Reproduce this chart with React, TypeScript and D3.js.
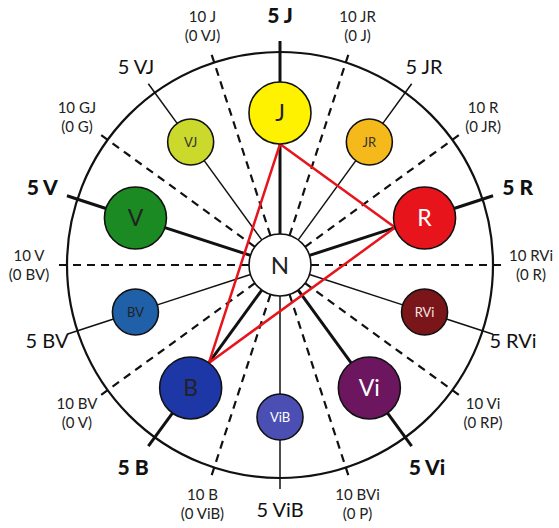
import React from 'react';
import * as d3 from 'd3';

// hues clockwise from the top
const hues = ['J', 'JR', 'R', 'RVi', 'Vi', 'ViB', 'B', 'BV', 'V', 'VJ'];
const principal = [true, false, true, false, true, false, true, false, true, false];
const hueColors = ['#fff200', '#f5b91c', '#e8141c', '#7a1519', '#6c1660', '#4b4fb4', '#1e37a6', '#1f60a8', '#1b8a22', '#cbd82c'];
const hueTextColors = ['#222', '#333', '#fff', '#f3e6e6', '#fff', '#fff', '#222', '#222', '#222', '#333'];
const hueLabels = ['5 J', '5 JR', '5 R', '5 RVi', '5 Vi', '5 ViB', '5 B', '5 BV', '5 V', '5 VJ'];

// boundaries between hues (dashed), clockwise starting just after 5 J
const boundaryTop = ['10 JR', '10 R', '10 RVi', '10 Vi', '10 BVi', '10 B', '10 BV', '10 V', '10 GJ', '10 J'];
const boundaryBottom = ['(0 J)', '(0 JR)', '(0 R)', '(0 RP)', '(0 P)', '(0 ViB)', '(0 V)', '(0 BV)', '(0 G)', '(0 VJ)'];

// hues joined by the red triangle
const triangle = ['J', 'R', 'B'];

const W = 559;
const H = 528;
const cx = 280;
const cy = 265;
const R = 213;
const rN = 31;
const rHue = 152;
const FONT = 'Lato, "Open Sans", sans-serif';

const App: React.FC = () => {
    const angle = d3.scaleLinear().domain([0, hues.length]).range([0, 2 * Math.PI]);
    const pt = (a: number, r: number): [number, number] => [cx + r * Math.sin(a), cy - r * Math.cos(a)];

    const triPts = triangle.map(h => {
        const i = hues.indexOf(h);
        return pt(angle(i), rHue - (principal[i] ? 31 : 23));
    });
    const triPath = d3.line().curve(d3.curveLinearClosed)(triPts) || '';

    return (
        <svg width={W} height={H} style={{ position: 'absolute', left: 0, top: 0, background: '#fff' }}>
            <circle cx={cx} cy={cy} r={R} fill="none" stroke="#111" strokeWidth={2.2} />

            {/* dashed boundaries */}
            {boundaryTop.map((t, i) => {
                const a = angle(i + 0.5);
                const [x1, y1] = pt(a, rN);
                const [x2, y2] = pt(a, 222);
                const [lx, ly] = pt(a, 251);
                return (
                    <g key={t}>
                        <line x1={x1} y1={y1} x2={x2} y2={y2} stroke="#111" strokeWidth={2.2} strokeDasharray="8 6" />
                        <text x={lx} y={ly - 4} textAnchor="middle" fontFamily={FONT} fontSize={15} fill="#222">{t}</text>
                        <text x={lx} y={ly + 15} textAnchor="middle" fontFamily={FONT} fontSize={15} fill="#222">{boundaryBottom[i]}</text>
                    </g>
                );
            })}

            {/* hue spokes */}
            {hues.map((h, i) => {
                const a = angle(i);
                const cr = principal[i] ? 31 : 23;
                const sw = principal[i] ? 3 : 1.5;
                const [a1, b1] = pt(a, rN);
                const [a2, b2] = pt(a, rHue - cr);
                const [a3, b3] = pt(a, rHue + cr);
                const [a4, b4] = pt(a, 224);
                return (
                    <g key={'s' + h}>
                        <line x1={a1} y1={b1} x2={a2} y2={b2} stroke="#111" strokeWidth={sw} />
                        <line x1={a3} y1={b3} x2={a4} y2={b4} stroke="#111" strokeWidth={sw} />
                    </g>
                );
            })}

            <path d={triPath} fill="none" stroke="#e8141c" strokeWidth={2.5} strokeLinejoin="miter" />

            {/* hue discs */}
            {hues.map((h, i) => {
                const [x, y] = pt(angle(i), rHue);
                const big = principal[i];
                return (
                    <g key={'c' + h}>
                        <circle cx={x} cy={y} r={big ? 31 : 23} fill={hueColors[i]} stroke="#111" strokeWidth={1.6} />
                        <text x={x} y={y} dy="0.36em" textAnchor="middle" fontFamily={FONT}
                            fontSize={big ? 23 : 13} fill={hueTextColors[i]}>{h}</text>
                    </g>
                );
            })}

            <circle cx={cx} cy={cy} r={rN} fill="#fff" stroke="#111" strokeWidth={1.6} />
            <text x={cx} y={cy} dy="0.36em" textAnchor="middle" fontFamily={FONT} fontSize={24} fill="#222">N</text>

            {/* hue labels */}
            {hueLabels.map((t, i) => {
                const [x, y] = pt(angle(i), principal[i] ? 250 : 245);
                return (
                    <text key={t} x={x} y={y} dy="0.36em" textAnchor="middle" fontFamily={FONT}
                        fontSize={principal[i] ? 21 : 20} fontWeight={principal[i] ? 900 : 400} fill="#111">{t}</text>
                );
            })}
        </svg>
    );
};

export default App;
